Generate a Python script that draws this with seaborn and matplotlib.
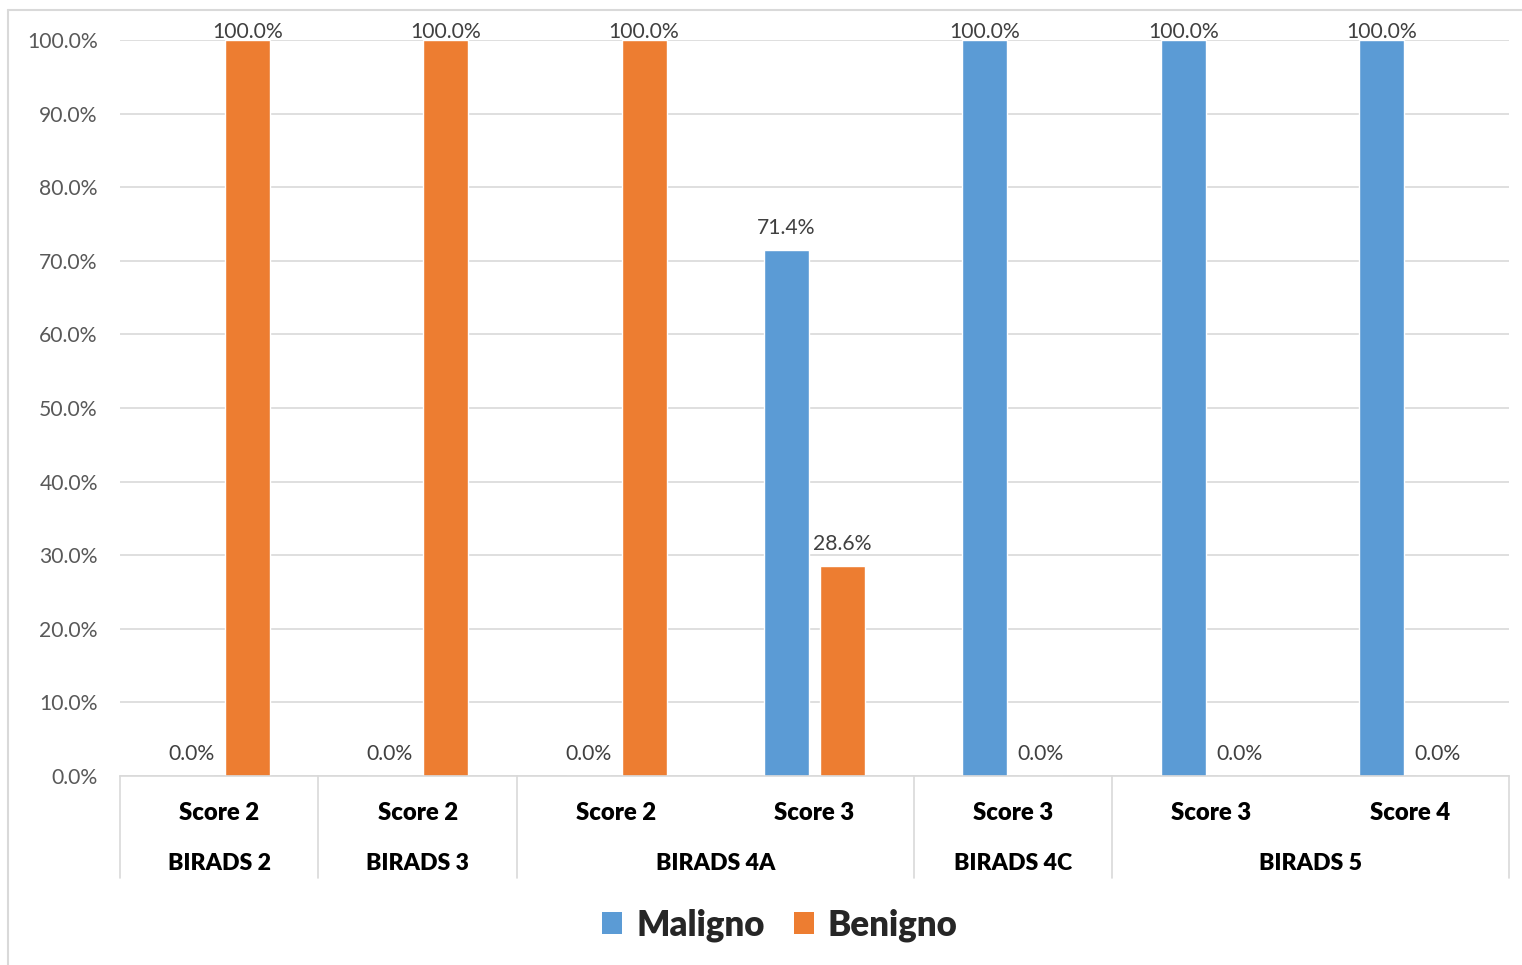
import matplotlib
matplotlib.use("Agg")
import matplotlib.pyplot as plt
from matplotlib.patches import Patch
from matplotlib.lines import Line2D
import matplotlib.transforms as mtransforms
import numpy as np
import pandas as pd
import seaborn as sns

# ---- data -------------------------------------------------------------
groups = ["BIRADS 2", "BIRADS 3", "BIRADS 4A", "BIRADS 4A", "BIRADS 4C", "BIRADS 5", "BIRADS 5"]
scores = ["Score 2", "Score 2", "Score 2", "Score 3", "Score 3", "Score 3", "Score 4"]
maligno = [0.0, 0.0, 0.0, 71.4, 100.0, 100.0, 100.0]
benigno = [100.0, 100.0, 100.0, 28.6, 0.0, 0.0, 0.0]
series_names = ["Maligno", "Benigno"]
yticks = [0, 10, 20, 30, 40, 50, 60, 70, 80, 90, 100]

colors = {"Maligno": "#5B9BD5", "Benigno": "#ED7D31"}
FONT = "Lato"

slots = [f"{g}|{s}" for g, s in zip(groups, scores)]
df = pd.DataFrame({
    "slot": slots * 2,
    "serie": ["Maligno"] * len(slots) + ["Benigno"] * len(slots),
    "valor": maligno + benigno,
})

sns.set_theme(style="white")
plt.rcParams["font.family"] = [FONT, "DejaVu Sans"]

W, H = 1522, 965
fig = plt.figure(figsize=(W / 100, H / 100), dpi=100)
x0, x1, ytop, ybot = 120, 1509, 40, 776
ax = fig.add_axes([x0 / W, 1 - ybot / H, (x1 - x0) / W, (ybot - ytop) / H])

sns.barplot(data=df, x="slot", y="valor", hue="serie", order=slots,
            hue_order=series_names, palette=colors, width=0.565, gap=0.196,
            saturation=1, ax=ax, legend=False, errorbar=None)

ax.set_xlim(-0.5, len(slots) - 0.5)
ax.set_ylim(0, 100)
ax.set_yticks(yticks)
ax.set_yticklabels([f"{t:.1f}%" for t in yticks], color="#595959", fontsize=15.2)
ax.tick_params(axis="y", length=0, pad=16)
ax.set_xticks([])
ax.set_xlabel("")
ax.set_ylabel("")
ax.grid(axis="y", color="#D9D9D9", linewidth=1.2)
ax.set_axisbelow(True)
for side in ["left", "top", "right"]:
    ax.spines[side].set_visible(False)
ax.spines["bottom"].set_color("#D9D9D9")
ax.spines["bottom"].set_linewidth(1.2)

# value labels above each bar
for cont, vals in zip(ax.containers, [maligno, benigno]):
    for bar, v in zip(cont, vals):
        xc = bar.get_x() + bar.get_width() / 2
        off = 8 if v >= 99.9 else 22
        ax.annotate(f"{v:.1f}%", (xc, v), xytext=(0, off), textcoords="offset pixels",
                    ha="center", va="center", fontsize=15.2, color="#404040",
                    annotation_clip=False)

# two-level category axis
trans = mtransforms.blended_transform_factory(ax.transData, ax.transAxes)
ph = ybot - ytop
y_score = -(813 - ybot) / ph
y_group = -(863 - ybot) / ph
y_line = -(878 - ybot) / ph
for i, s in enumerate(scores):
    ax.text(i, y_score, s, transform=trans, ha="center", va="center",
            fontsize=17.2, fontweight="heavy", color="black")

bounds = [-0.5]
i = 0
while i < len(groups):
    j = i
    while j + 1 < len(groups) and groups[j + 1] == groups[i]:
        j += 1
    ax.text((i + j) / 2, y_group, groups[i], transform=trans, ha="center",
            va="center", fontsize=16.6, fontweight="heavy", color="black")
    bounds.append(j + 0.5)
    i = j + 1
for b in bounds:
    ax.add_line(Line2D([b, b], [0, y_line], transform=trans, color="#D9D9D9",
                       linewidth=1.2, clip_on=False))

# legend
handles = [Patch(facecolor=colors[n], edgecolor="none", label=n) for n in series_names]
fig.legend(handles=handles, loc="center", bbox_to_anchor=(780 / W, 1 - 925 / H),
           ncol=2, frameon=False, prop={"family": FONT, "weight": "heavy", "size": 25},
           handlelength=0.57, handleheight=0.57, handletextpad=0.4, columnspacing=0.85)

# chart frame
fig.add_artist(Line2D([8 / W, 8 / W], [0, 1 - 10 / H], transform=fig.transFigure,
                      color="#D9D9D9", linewidth=1.5))
fig.add_artist(Line2D([8 / W, 1], [1 - 10 / H, 1 - 10 / H], transform=fig.transFigure,
                      color="#D9D9D9", linewidth=1.5))

fig.savefig("out.png", dpi=100)
